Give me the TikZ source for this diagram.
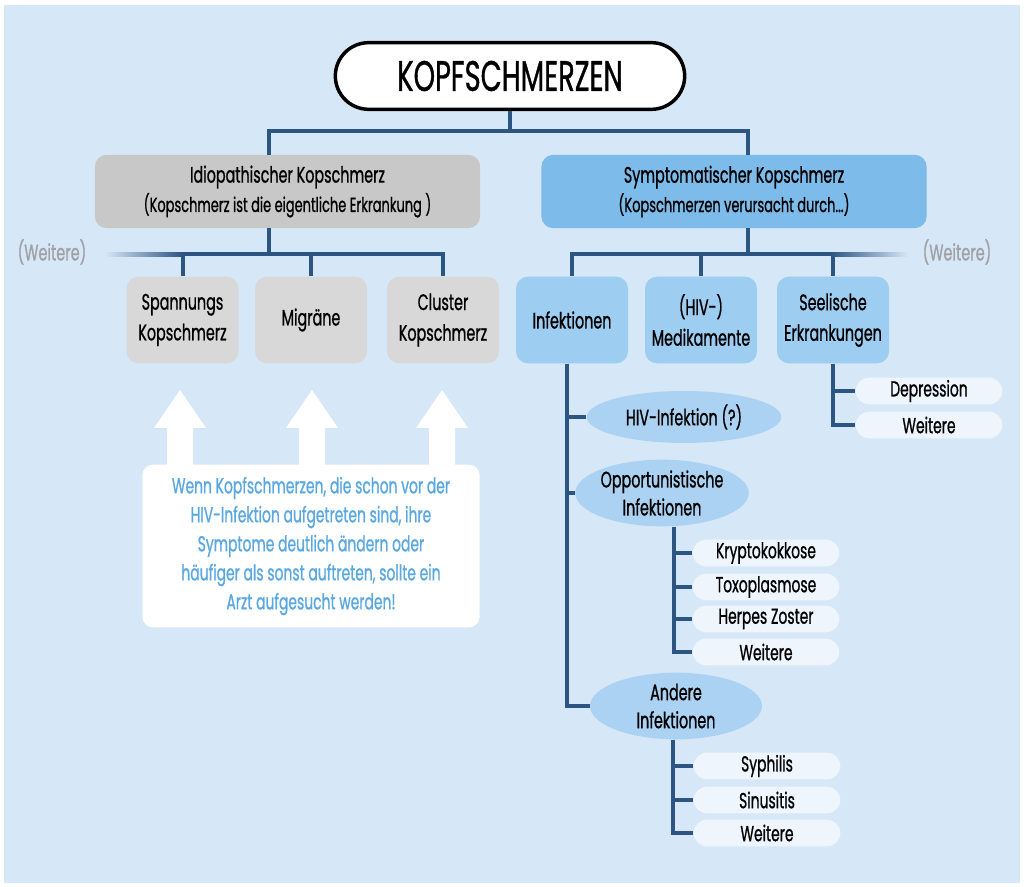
\documentclass[tikz,border=0pt]{standalone}
\usepackage{fontspec}
\setmainfont{Poppins}[FakeStretch=0.64,FakeBold=0.8]
\usetikzlibrary{shapes.geometric,shapes.misc}
\definecolor{skyback}{RGB}{214,231,247}
\definecolor{headblue}{RGB}{124,187,234}
\definecolor{kidblue}{RGB}{157,205,240}
\definecolor{ovalblue}{RGB}{171,210,242}
\definecolor{leafwhite}{RGB}{238,245,252}
\definecolor{headgrey}{RGB}{200,200,200}
\definecolor{kidgrey}{RGB}{216,216,216}
\definecolor{treeline}{RGB}{45,85,130}
\definecolor{notetext}{RGB}{90,168,225}
\definecolor{moregrey}{RGB}{160,160,165}
\tikzset{
  link/.style={draw=treeline,line width=3pt},
  title/.style={rounded rectangle,draw=black,line width=2.6pt,fill=white,
    minimum width=262pt,minimum height=50pt,inner sep=0pt,font=\fontsize{32}{33}\selectfont},
  head/.style={fill=#1,rounded corners=9pt,minimum width=289pt,minimum height=55pt,
    inner sep=0pt,align=center,font=\fontsize{16.8}{22}\selectfont},
  head/.default=headblue,
  kid/.style={fill=#1,rounded corners=9pt,minimum width=84pt,minimum height=65pt,
    inner sep=0pt,align=center,font=\fontsize{16.8}{23}\selectfont},
  kid/.default=kidblue,
  oval/.style={ellipse,fill=ovalblue,inner sep=0pt,align=center,font=\fontsize{16.8}{21}\selectfont},
  leaf/.style={rounded rectangle,fill=leafwhite,minimum width=110pt,minimum height=20pt,
    inner sep=0pt,font=\fontsize{16.3}{17}\selectfont},
  more/.style={text=moregrey,font=\fontsize{17}{18}\selectfont},
  note/.style={fill=white,rounded corners=8pt,minimum width=253pt,minimum height=122pt,
    inner sep=0pt,align=center,text=notetext,font=\fontsize{16.3}{21.75}\selectfont},
}
\newcommand{\subline}[1]{{\fontsize{15.2}{22}\selectfont #1}}
\begin{document}
\begin{tikzpicture}[x=0.75pt,y=-0.75pt]
  \useasboundingbox (0,0) rectangle (1024,887);
  \fill[white] (0,0) rectangle (1024,887);
  \fill[skyback] (4,5) rectangle (1020,883);

  % top
  \node[title] (title) at (510,76) {KOPFSCHMERZEN};
  \node[head=headgrey] (idio) at (287.5,191.5) {Idiopathischer Kopschmerz\\\subline{(Kopschmerz ist die eigentliche Erkrankung )}};
  \node[head] (sympt) at (734,191.5) {Symptomatischer Kopschmerz\\\subline{(Kopschmerzen verursacht durch...)}};
  \draw[link] (title.south) -- ++(0,20) -| ([xshift=-14pt]idio.north);
  \draw[link] (title.south) -- ++(0,20) -| ([xshift=10.5pt]sympt.north);

  % idiopathisch
  \node[kid=kidgrey] (span) at (182.5,320) {Spannungs\\Kopschmerz};
  \node[kid=kidgrey] (migr) at (311,320) {Migräne};
  \node[kid=kidgrey] (clus) at (443,320) {Cluster\\Kopschmerz};
  \draw[link] ([xshift=-14pt]idio.south) -- ++(0,27);
  \draw[link] (span.north) -- ++(0,-22) -| (clus.north);
  \draw[link] (migr.north) -- ++(0,-22);
  \shade[left color=skyback,right color=treeline] (105,253) rectangle (182,257);
  \node[more] (moreL) at (52,252) {(Weitere)};

  % symptomatisch
  \node[kid] (inf) at (572,320) {Infektionen};
  \node[kid] (med) at (701,320) {(HIV-)\\Medikamente};
  \node[kid] (seel) at (833,320) {Seelische\\Erkrankungen};
  \draw[link] ([xshift=10.5pt]sympt.south) -- ++(0,27);
  \draw[link] (inf.north) -- ++(0,-22) -| (seel.north);
  \draw[link] (med.north) -- ++(0,-22);
  \shade[left color=treeline,right color=skyback] (831,253) rectangle (908,257);
  \node[more] (moreR) at (957,252) {(Weitere)};

  % seelische
  \node[leaf] (dep) at (929,391) {Depression};
  \node[leaf] (seelw) at (929,425) {Weitere};
  \draw[link] (seel.south) |- (dep.west);
  \draw[link] (seel.south) |- (seelw.west);

  % infektionen
  \node[oval,minimum width=146pt,minimum height=39pt] (hiv) at (684,417) {HIV-Infektion (?)};
  \node[oval,minimum width=113pt,minimum height=50pt] (opp) at (662,493) {Opportunistische\\Infektionen};
  \node[oval,minimum width=129pt,minimum height=50pt] (and) at (676,706) {Andere\\Infektionen};
  \draw[link] ([xshift=-4pt]inf.south) |- (hiv.west);
  \draw[link] ([xshift=-4pt]inf.south) |- (opp.west);
  \draw[link] ([xshift=-4pt]inf.south) |- (and.west);

  \node[leaf] (kry) at (766,553) {Kryptokokkose};
  \node[leaf] (tox) at (766,587) {Toxoplasmose};
  \node[leaf] (her) at (766,619) {Herpes Zoster};
  \node[leaf] (oppw) at (766,652) {Weitere};
  \foreach \l in {kry,tox,her,oppw}
    \draw[link] ([xshift=9pt]opp.south) |- (\l.west);

  \node[leaf] (syp) at (767,766) {Syphilis};
  \node[leaf] (sin) at (767,800) {Sinusitis};
  \node[leaf] (andw) at (767,833) {Weitere};
  \foreach \l in {syp,sin,andw}
    \draw[link] ([xshift=-2pt]and.south) |- (\l.west);

  % hinweis
  \foreach \ax in {180,312,442}
    \fill[white] (\ax-13,470) -- (\ax-13,428) -- (\ax-26,428) -- (\ax,390) -- (\ax+26,428) -- (\ax+13,428) -- (\ax+13,470) -- cycle;
  \node[note] (note) at (311,546) {Wenn Kopfschmerzen, die schon vor der\\HIV-Infektion aufgetreten sind, ihre\\Symptome deutlich ändern oder\\häufiger als sonst auftreten, sollte ein\\Arzt aufgesucht werden!};
\end{tikzpicture}
\end{document}
